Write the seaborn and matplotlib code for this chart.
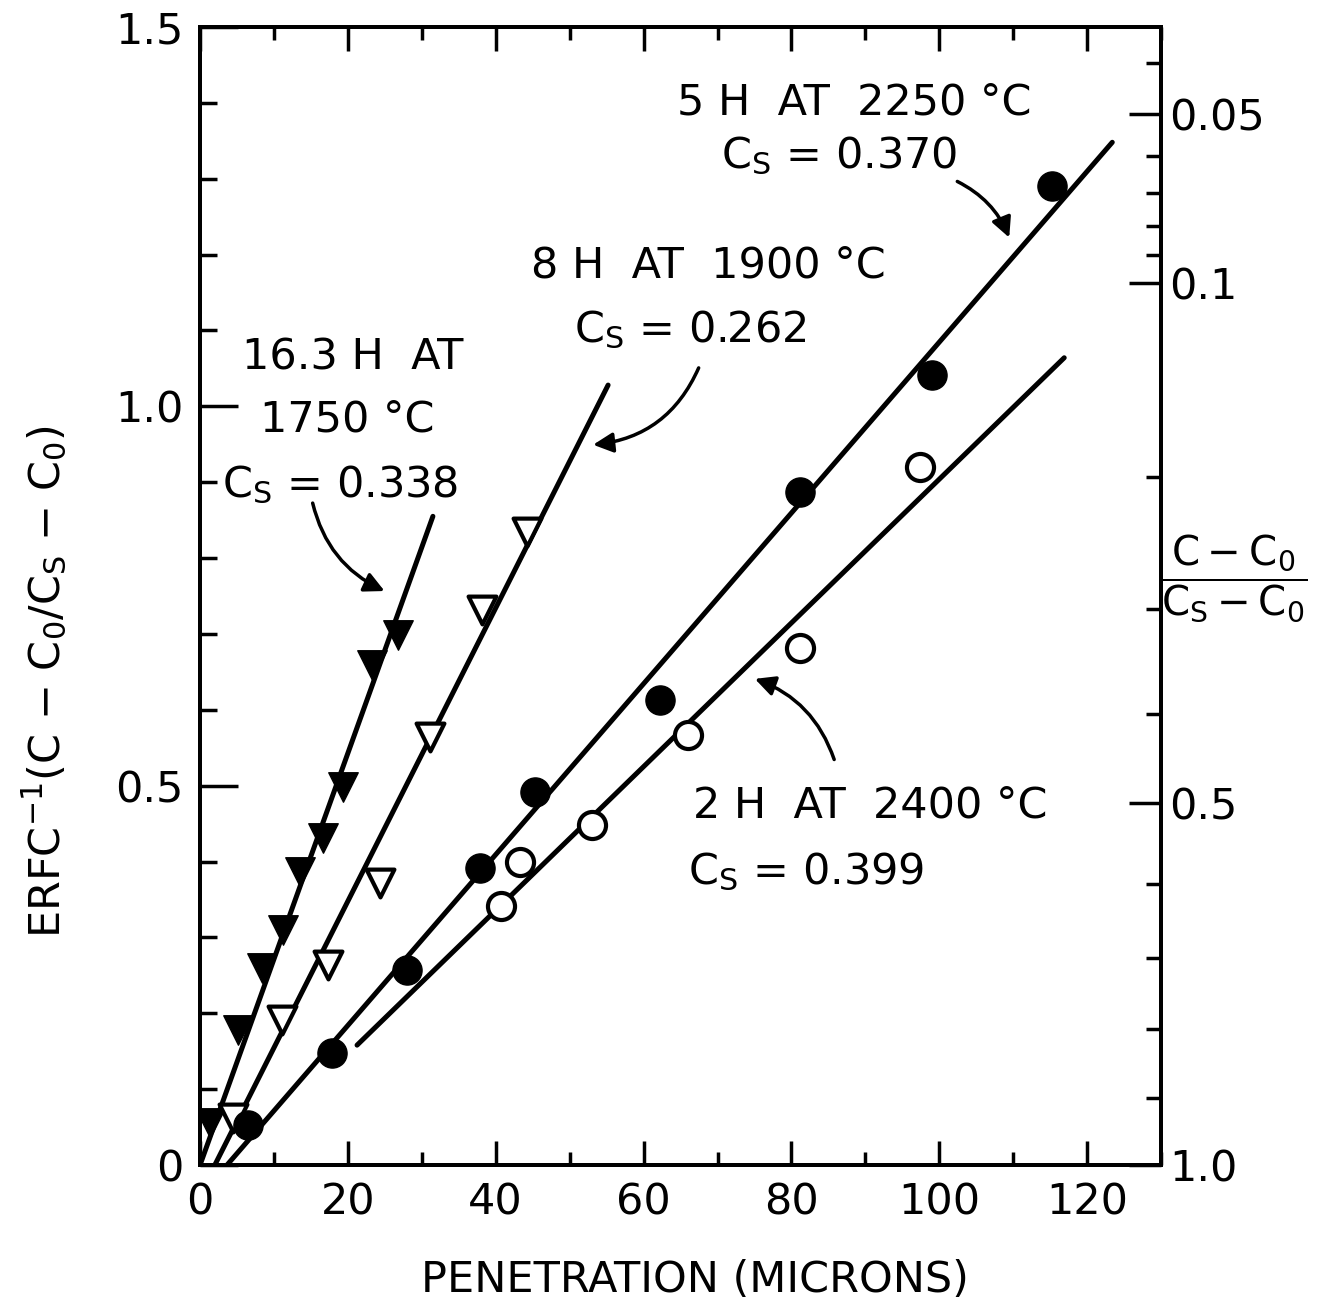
import math
import numpy as np
import pandas as pd
import matplotlib
matplotlib.use("Agg")
import matplotlib.pyplot as plt
import seaborn as sns

# penetration (microns) and erfc^-1 values
x_1750 = [1.35, 5.14, 8.39, 11.23, 13.53, 16.64, 19.35, 23.27, 26.79]
y_1750 = [0.055, 0.178, 0.260, 0.310, 0.386, 0.431, 0.498, 0.659, 0.699]
x_1900 = [4.46, 11.09, 17.32, 24.35, 31.1, 38.15, 44.24]
y_1900 = [0.062, 0.191, 0.264, 0.372, 0.564, 0.731, 0.834]
x_2250 = [6.49, 17.86, 28.0, 37.9, 45.3, 62.2, 81.2, 99.0, 115.3]
y_2250 = [0.053, 0.148, 0.257, 0.391, 0.492, 0.613, 0.887, 1.041, 1.290]
x_2400 = [40.7, 43.3, 53.0, 66.0, 81.2, 97.4]
y_2400 = [0.341, 0.399, 0.448, 0.567, 0.681, 0.920]

# fitted straight lines, end points
fit_1750 = ([0.0, 31.5], [0.0, 0.855])
fit_1900 = ([2.0, 55.2], [0.0, 1.028])
fit_2250 = ([3.65, 123.4], [0.0, 1.348])
fit_2400 = ([21.24, 116.9], [0.158, 1.064])

# right hand scale, (C-Co)/(Cs-Co)
right_major = [0.05, 0.1, 0.5, 1.0]
right_major_labels = ["0.05", "0.1", "0.5", "1.0"]
right_minor = [0.04, 0.06, 0.07, 0.08, 0.09, 0.2, 0.3, 0.4, 0.6, 0.7, 0.8, 0.9]


def erfcinv(v):
    lo, hi = 0.0, 5.0
    for _ in range(80):
        mid = 0.5 * (lo + hi)
        if math.erfc(mid) > v:
            lo = mid
        else:
            hi = mid
    return 0.5 * (lo + hi)


sns.set_style("ticks")
plt.rcParams['font.family'] = ['DejaVu Sans']
plt.rcParams['mathtext.default'] = 'regular'
for k in ['text.color', 'axes.labelcolor', 'axes.edgecolor',
          'xtick.color', 'ytick.color']:
    plt.rcParams[k] = 'black'

fig = plt.figure(figsize=(13.23, 13.03), dpi=100)
ax = fig.add_axes([0.1512, 0.1059, 0.8776 - 0.1512, 0.9793 - 0.1059])

lw = 3.6
for fx, fy in [fit_1750, fit_1900, fit_2250, fit_2400]:
    sns.lineplot(x=fx, y=fy, color="black", linewidth=lw, ax=ax, zorder=2)

sns.scatterplot(x=x_1750, y=y_1750, marker="v", s=450, color="black",
                edgecolor="black", linewidth=1, ax=ax, zorder=3)
sns.scatterplot(x=x_1900, y=y_1900, marker="v", s=400, color="white",
                edgecolor="black", linewidth=3, ax=ax, zorder=3)
sns.scatterplot(x=x_2250, y=y_2250, marker="o", s=440, color="black",
                edgecolor="black", linewidth=1, ax=ax, zorder=3)
sns.scatterplot(x=x_2400, y=y_2400, marker="o", s=380, color="white",
                edgecolor="black", linewidth=3, ax=ax, zorder=3)

ax.set_xlim(0, 130)
ax.set_ylim(0, 1.5)
ax.set_xticks(np.arange(0, 121, 20))
ax.set_xticks(np.arange(0, 131, 10), minor=True)
ax.set_yticks([0, 0.5, 1.0, 1.5])
ax.set_yticklabels(["0", "0.5", "1.0", "1.5"])
ax.set_yticks(np.arange(0, 1.51, 0.1), minor=True)
ax.tick_params(axis="x", which="both", direction="in", top=True, width=2.5,
               labelsize=31, pad=12)
ax.tick_params(axis="x", which="major", length=17)
ax.tick_params(axis="x", which="minor", length=9.5)
ax.tick_params(axis="y", which="both", direction="in", right=False, width=2.5,
               labelsize=31, pad=12)
ax.tick_params(axis="y", which="major", length=27)
ax.tick_params(axis="y", which="minor", length=12)
ax.set_xlabel("")
ax.set_ylabel("")
for s in ax.spines.values():
    s.set_linewidth(2.8)

ax2 = ax.twinx()
ax2.set_ylim(ax.get_ylim())
ax2.set_yticks([erfcinv(v) for v in right_major])
ax2.set_yticklabels(right_major_labels)
ax2.set_yticks([erfcinv(v) for v in right_minor], minor=True)
ax2.tick_params(axis="y", which="both", direction="in", width=2.5,
                labelsize=31, pad=6)
ax2.tick_params(axis="y", which="major", length=23)
ax2.tick_params(axis="y", which="minor", length=11)
for s in ax2.spines.values():
    s.set_linewidth(2.8)

fs = 31
ax.text(88.5, 1.40, "5 H  AT  2250 °C", fontsize=fs, ha="center", va="center")
ax.text(86.5, 1.33, "C$_S$ = 0.370", fontsize=fs, ha="center", va="center")
ax.text(68.7, 1.185, "8 H  AT  1900 °C", fontsize=fs, ha="center", va="center")
ax.text(66.3, 1.10, "C$_S$ = 0.262", fontsize=fs, ha="center", va="center")
ax.text(20.6, 1.064, "16.3 H  AT", fontsize=fs, ha="center", va="center")
ax.text(19.9, 0.982, "1750 °C", fontsize=fs, ha="center", va="center")
ax.text(18.9, 0.896, "C$_S$ = 0.338", fontsize=fs, ha="center", va="center")
ax.text(90.6, 0.474, "2 H  AT  2400 °C", fontsize=fs, ha="center", va="center")
ax.text(82.0, 0.386, "C$_S$ = 0.399", fontsize=fs, ha="center", va="center")

arrow = dict(arrowstyle="-|>", color="black", lw=2.5, mutation_scale=30)
ax.annotate("", xy=(109.6, 1.219), xytext=(102.1, 1.298),
            arrowprops=dict(arrow, connectionstyle="arc3,rad=-0.2"))
ax.annotate("", xy=(52.8, 0.949), xytext=(67.6, 1.054),
            arrowprops=dict(arrow, connectionstyle="arc3,rad=-0.3"))
ax.annotate("", xy=(25.3, 0.755), xytext=(15.15, 0.876),
            arrowprops=dict(arrow, connectionstyle="arc3,rad=0.25"))
ax.annotate("", xy=(74.7, 0.642), xytext=(85.9, 0.531),
            arrowprops=dict(arrow, connectionstyle="arc3,rad=0.25"))

fig.text(0.525, 0.0177, "PENETRATION (MICRONS)", fontsize=31, ha="center", va="center")
fig.text(0.034, 0.477, "ERFC$^{-1}$(C − C$_0$/C$_S$ − C$_0$)", fontsize=31,
         rotation=90, ha="center", va="center")
fig.text(0.933, 0.556, r"$\dfrac{C - C_0}{C_S - C_0}$", fontsize=29,
         ha="center", va="center")

fig.savefig("out.png", dpi=100)
